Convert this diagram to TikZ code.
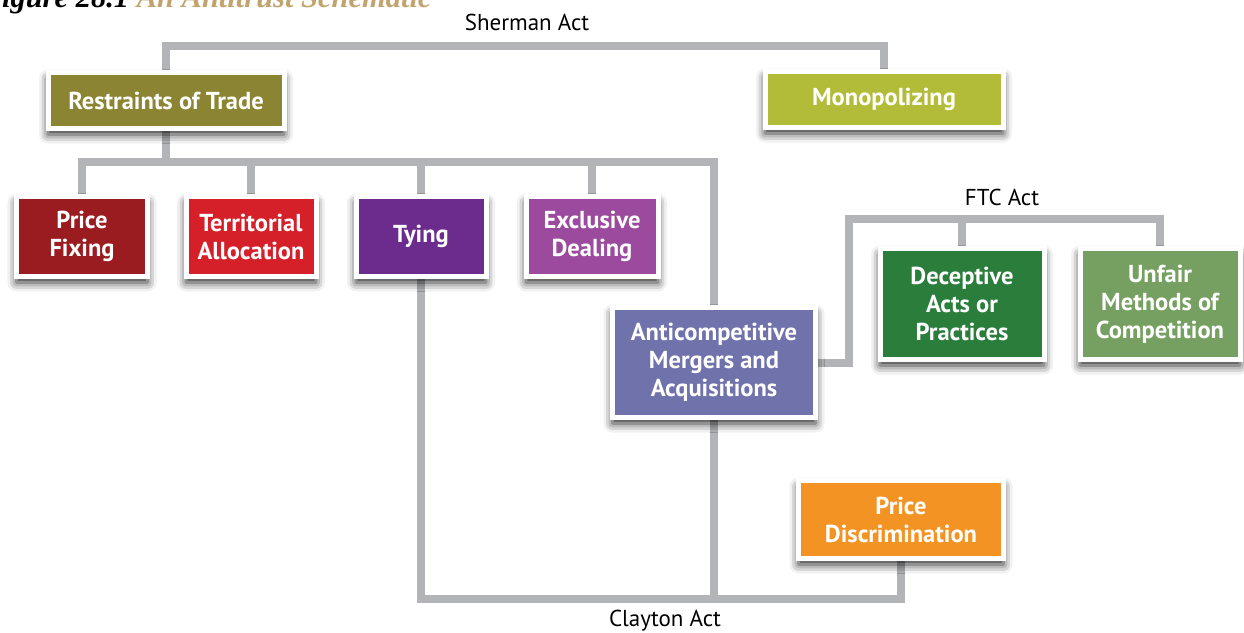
\documentclass[tikz,border=0pt]{standalone}
\usepackage{fontspec}
\setmainfont{PT Sans}
\newfontfamily\titlefont{Liberation Serif}
\usetikzlibrary{shadows.blur}
\definecolor{linegray}{HTML}{B2B4B7}
\definecolor{cRT}{HTML}{8B8432}
\definecolor{cMO}{HTML}{B3BC38}
\definecolor{cPF}{HTML}{9B1C20}
\definecolor{cTA}{HTML}{D5202A}
\definecolor{cTY}{HTML}{6C2C8E}
\definecolor{cED}{HTML}{9C4A9E}
\definecolor{cAM}{HTML}{7072AC}
\definecolor{cDA}{HTML}{2B7D3C}
\definecolor{cUM}{HTML}{76A062}
\definecolor{cPD}{HTML}{F39323}
\definecolor{ctitle}{HTML}{C2A36E}
\pgfdeclarelayer{bg}
\pgfsetlayers{bg,main}
\begin{document}
\begin{tikzpicture}[x=1pt,y=-1pt,
  conn/.style={draw=linegray, line width=8pt, line join=miter, line cap=rect},
  box/.style={draw=white, line width=5pt, text=white, inner sep=0pt, align=center,
    font=\fontsize{24.5}{28}\selectfont\bfseries,
    blur shadow={shadow xshift=0pt, shadow yshift=-6pt, shadow blur radius=9pt, shadow opacity=85}},
  actlabel/.style={font=\fontsize{23}{26}\selectfont, text=black, inner sep=0pt}]
\path[use as bounding box] (0,0) rectangle (1244,632);
\clip (0,0) rectangle (1244,632);

% title (cropped at the top of the picture)
\node[anchor=base west, inner sep=0pt, font=\titlefont\fontsize{30.5}{30}\selectfont\bfseries\itshape] (title) at (-18.5,7.5) {Figure 28.1 \textcolor{ctitle}{An Antitrust Schematic}};

% act labels
\node[actlabel] (sherman) at (527,22) {Sherman Act};
\node[actlabel] (ftc) at (1002,197) {FTC Act};
\node[actlabel] (clayton) at (665,621) {Clayton Act};

% boxes
\node[box, fill=cRT, minimum width=236pt, minimum height=56pt] (rt) at (166,100.5) {Restraints of Trade};
\node[box, fill=cMO, minimum width=238pt, minimum height=56pt] (mo) at (884,99.5) {Monopolizing};
\node[box, fill=cPF, minimum width=131pt, minimum height=80pt] (pf) at (82,236.5) {Price\\Fixing};
\node[box, fill=cTA, minimum width=130pt, minimum height=80pt] (ta) at (251,236.5) {Territorial\\Allocation};
\node[box, fill=cTY, minimum width=130pt, minimum height=80pt] (ty) at (421,236.5) {Tying};
\node[box, fill=cED, minimum width=132pt, minimum height=80pt] (ed) at (592,236.5) {Exclusive\\Dealing};
\node[box, fill=cAM, minimum width=203pt, minimum height=110pt] (am) at (714,362.5) {Anticompetitive\\Mergers and\\Acquisitions};
\node[box, fill=cDA, minimum width=164pt, minimum height=111pt] (da) at (962,304) {Deceptive\\Acts or\\Practices};
\node[box, fill=cUM, minimum width=160pt, minimum height=111pt] (um) at (1160,304) {Unfair\\Methods of\\Competition};
\node[box, fill=cPD, minimum width=205pt, minimum height=78pt] (pd) at (901,519.5) {Price\\Discrimination};

% bus coordinates
\coordinate (shbus) at (527,46);
\coordinate (rtbus) at (400,162);
\coordinate (ftcbus) at (849,219);
\coordinate (clbus) at (665,599);

\begin{pgfonlayer}{bg}
% Sherman Act
\draw[conn] (rt.north) |- (shbus) -| (mo.north);
% restraints of trade branches
\draw[conn] (rt.south) -- (rt.south |- rtbus);
\draw[conn] (pf.north) |- (rtbus) -| (am.north);
\draw[conn] (ta.north) -- (ta.north |- rtbus);
\draw[conn] (ty.north) -- (ty.north |- rtbus);
\draw[conn] (ed.north) -- (ed.north |- rtbus);
% FTC Act
\draw[conn] (am.east) -| (ftcbus) -| (um.north);
\draw[conn] (da.north) -- (da.north |- ftcbus);
% Clayton Act
\draw[conn] (ty.south) |- (clbus) -| (pd.south);
\draw[conn] (am.south) -- (am.south |- clbus);
\end{pgfonlayer}
\end{tikzpicture}
\end{document}
